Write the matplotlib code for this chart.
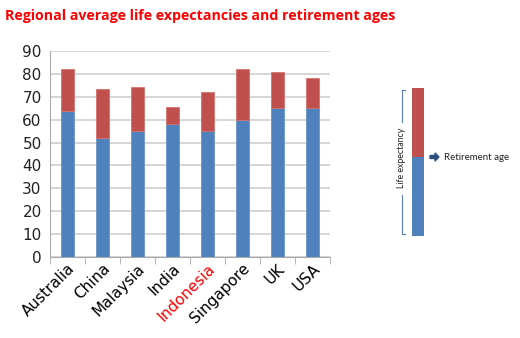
import numpy as np
import matplotlib.pyplot as plt
from matplotlib.patches import Rectangle, FancyArrow

countries = ["Australia", "China", "Malaysia", "India", "Indonesia", "Singapore", "UK", "USA"]
retirement_age = [64, 52, 55, 58, 55, 60, 65, 65]
life_expectancy = [82, 73.3, 74.3, 65.5, 71.9, 82, 80.7, 78.3]
yticks = list(range(0, 100, 10))

blue = "#4f81bd"
red = "#c0504d"

fig = plt.figure(figsize=(5.2, 3.38), dpi=100)
plt.rcParams['font.family'] = ['DejaVu Sans']

# main plot area
ax = fig.add_axes([50 / 520, 1 - 257 / 338, 280 / 520, 206 / 338])
x = np.arange(len(countries))
gap = [le - ra for le, ra in zip(life_expectancy, retirement_age)]
ax.bar(x, retirement_age, width=0.36, color=blue, edgecolor="#6a95cc", linewidth=0.6, zorder=3)
ax.bar(x, gap, bottom=retirement_age, width=0.36, color=red, edgecolor="#d67370", linewidth=0.6, zorder=3)

ax.set_xlim(-0.5, len(countries) - 0.5)
ax.set_ylim(0, 90)
ax.set_yticks(yticks)
ax.yaxis.grid(True, color="#d0d0d0", linewidth=1.2, zorder=0)
ax.tick_params(axis="y", length=0, labelsize=11, colors="#222222", pad=6)
ax.set_xticks(x)
ax.set_xticklabels(countries, rotation=45, ha="right", rotation_mode="anchor", fontsize=11)
ax.tick_params(axis="x", length=0, pad=3)
ax.set_xticks(np.arange(-0.5, len(countries)), minor=True)
ax.tick_params(axis="x", which="minor", length=5, color="#aaaaaa")
ax.get_xticklabels()[4].set_color("red")
for s in ["top", "right"]:
    ax.spines[s].set_visible(False)
ax.spines["left"].set_color("#aaaaaa")
ax.spines["bottom"].set_color("#aaaaaa")

fig.text(5 / 520, 1 - 16 / 338, "Regional average life expectancies and retirement ages",
         color="red", fontsize=10.2, fontweight="bold", family="Open Sans", va="center")

# key on the right
kx0, kx1 = 412 / 520, 424 / 520
ky_top, ky_mid, ky_bot = 1 - 88 / 338, 1 - 157 / 338, 1 - 236 / 338
fig.patches.append(Rectangle((kx0, ky_mid), kx1 - kx0, ky_top - ky_mid, transform=fig.transFigure,
                             facecolor=red, edgecolor="none"))
fig.patches.append(Rectangle((kx0, ky_bot), kx1 - kx0, ky_mid - ky_bot, transform=fig.transFigure,
                             facecolor=blue, edgecolor="none"))
bx = 402 / 520
bracket_col = "#5b7fb8"
bt, bb = 1 - 90 / 338, 1 - 234 / 338
for xs, ys in [([bx, bx], [bt, 1 - 122 / 338]), ([bx, bx], [1 - 195 / 338, bb]),
               ([bx, 405 / 520], [bt, bt]), ([bx, 405 / 520], [bb, bb])]:
    fig.lines.append(plt.Line2D(xs, ys, transform=fig.transFigure, color=bracket_col, lw=0.8))
fig.text(bx, 1 - 158 / 338, "Life expectancy", rotation=90, fontsize=6.3, family="Lato",
         ha="center", va="center", color="#222222",
         bbox=dict(facecolor="white", edgecolor="none", pad=1))
fig.patches.append(FancyArrow(430 / 520, ky_mid, 9 / 520, 0, width=0.009,
                              head_width=0.024, head_length=4 / 520,
                              transform=fig.transFigure, color="#2f4f7f",
                              length_includes_head=True))
fig.text(444 / 520, ky_mid, "Retirement age", fontsize=7, family="Lato", va="center", color="#222222")

plt.savefig("out.png", dpi=100)
